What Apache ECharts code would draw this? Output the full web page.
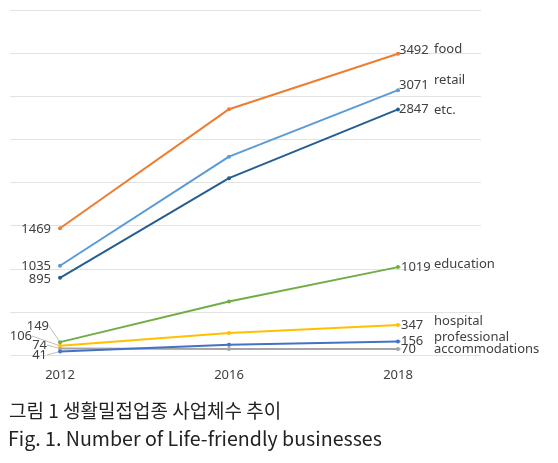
<!DOCTYPE html>
<html>
<head>
<meta charset="utf-8">
<script src="https://cdn.jsdelivr.net/npm/echarts@6/dist/echarts.min.js"></script>
<style>
html,body{margin:0;padding:0;background:#fff;}
#c{width:558px;height:463px;}
</style>
</head>
<body>
<div id="c"></div>
<script>
var categories = ['2012', '2016', '2018'];
var seriesNames = ['food', 'retail', 'etc.', 'education', 'hospital', 'professional', 'accommodations'];
var food = [1469, 2850, 3492];
var retail = [1035, 2300, 3071];
var etc = [895, 2050, 2847];
var education = [149, 620, 1019];
var hospital = [106, 255, 347];
var professional = [41, 120, 156];
var accommodations = [74, 70, 70];
var yTicks = [0, 500, 1000, 1500, 2000, 2500, 3000, 3500, 4000];
var captionKo = '그림 1 생활밀접업종 사업체수 추이';
var captionEn = 'Fig. 1. Number of Life-friendly businesses';

var values = [food, retail, etc, education, hospital, professional, accommodations];
var colors = ['#ED7D31', '#5B9BD5', '#255E91', '#70AD47', '#FFC000', '#4472C4', '#A5A5A5'];
// style / layout per series
var endValOffset = [-4, -5, 0, -2, 0, -1, 0];
var nameOffset = [-5, -10, 1, -3, -4, -4, 0];
var startLabelPos = [null, null, null, [49, 326], [32, 336], [47, 355], [47, 345]];

var fontFam = '"Noto Sans", "DejaVu Sans", sans-serif';
var txtColor = '#404040';

var chart = echarts.init(document.getElementById('c'), null, {renderer: 'canvas'});

var series = [];
values.forEach(function (vals, i) {
  var dataItems = vals.map(function (v, j) {
    var item = {value: v};
    if (j === 1) {
      item.label = {show: false};
    } else if (j === 2) {
      item.label = {show: true, position: 'right', distance: 1, offset: [-2, endValOffset[i]]};
    } else {
      item.label = {show: true, position: 'left', distance: 7, offset: [0, 1]};
    }
    return item;
  });
  var s = {
    name: seriesNames[i],
    type: 'line',
    xAxisIndex: 1,
    yAxisIndex: 1,
    data: dataItems,
    color: colors[i],
    symbol: 'circle',
    symbolSize: 4,
    lineStyle: {width: 2, color: colors[i]},
    itemStyle: {color: colors[i]},
    z: 10 - i,
    animation: false,
    label: {
      show: true,
      fontFamily: fontFam,
      fontSize: 13,
      color: txtColor
    },
    endLabel: {
      show: true,
      formatter: seriesNames[i],
      fontFamily: fontFam,
      fontSize: 13,
      color: txtColor,
      distance: 0,
      offset: [36, nameOffset[i]],
      align: 'left'
    }
  };
  if (startLabelPos[i]) {
    var p = startLabelPos[i];
    s.labelLayout = function (params) {
      if (params.dataIndex === 0) {
        return {x: p[0], y: p[1], align: 'right', verticalAlign: 'middle'};
      }
      return {};
    };
    s.labelLine = {show: true, smooth: false, length2: 0, lineStyle: {color: '#BFBFBF', width: 1}};
  }
  series.push(s);
});

var option = {
  backgroundColor: '#ffffff',
  animation: false,
  grid: [
    {left: 10, right: 77, top: 10, height: 345},
    {left: 60, width: 338, top: 10, height: 345}
  ],
  xAxis: [
    {gridIndex: 0, type: 'category', data: categories, show: false},
    {
      gridIndex: 1, type: 'category', data: categories, boundaryGap: false,
      axisLine: {show: false}, axisTick: {show: false}, splitLine: {show: false},
      axisLabel: {color: txtColor, fontFamily: fontFam, fontSize: 13, margin: 14}
    }
  ],
  yAxis: [
    {
      gridIndex: 0, type: 'value', min: yTicks[0], max: yTicks[yTicks.length - 1],
      interval: yTicks[1] - yTicks[0],
      axisLabel: {show: false}, axisLine: {show: false}, axisTick: {show: false},
      splitLine: {show: true, lineStyle: {color: '#E3E3E3', width: 1}}
    },
    {
      gridIndex: 1, type: 'value', min: yTicks[0], max: yTicks[yTicks.length - 1],
      show: false, splitLine: {show: false}
    }
  ],
  graphic: [
    {type: 'text', left: 9, top: 401, style: {text: captionKo, font: '19px "Noto Sans CJK KR"', fill: '#222'}},
    {type: 'text', left: 8, top: 429, style: {text: captionEn, font: '19.6px "Noto Sans CJK KR"', fill: '#222'}}
  ],
  series: series
};
chart.setOption(option);
</script>
</body>
</html>
